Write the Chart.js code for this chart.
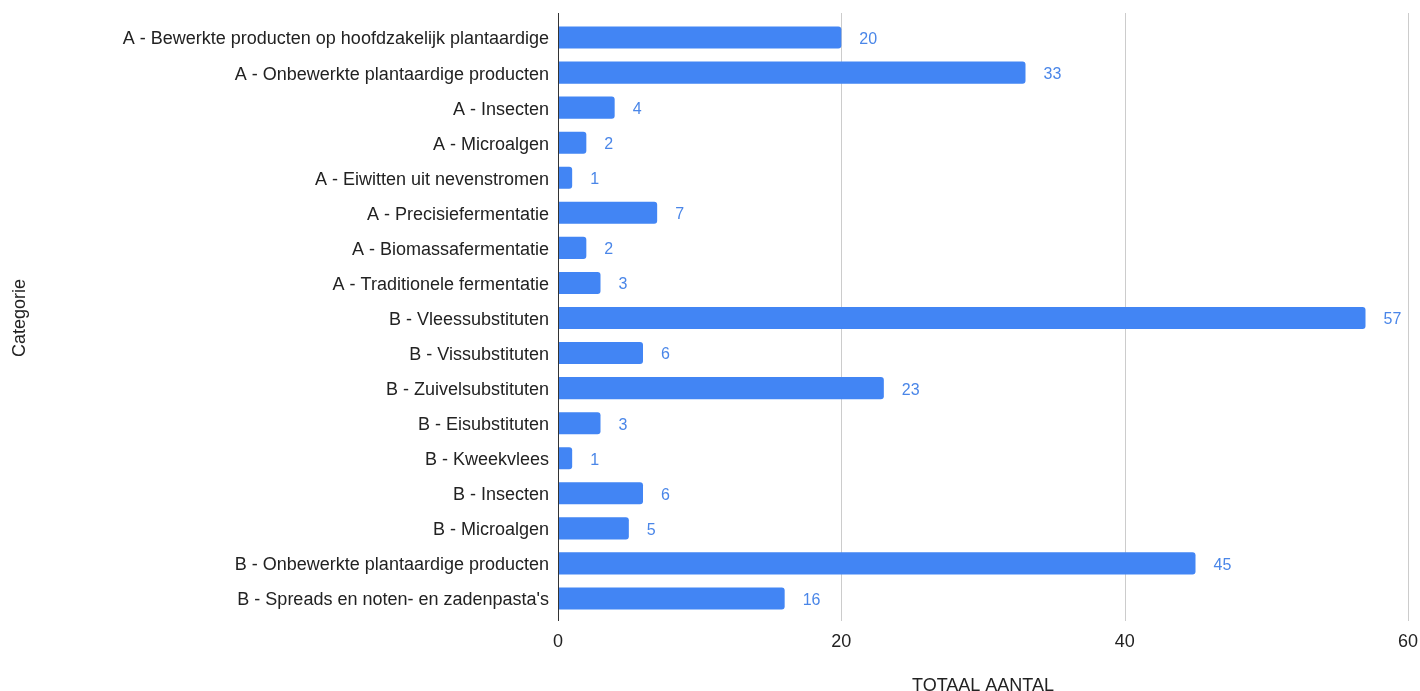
<!DOCTYPE html>
<html>
<head>
<meta charset="utf-8">
<script src="https://cdn.jsdelivr.net/npm/chart.js@4"></script>
<style>
  html, body { margin: 0; padding: 0; background: #fff; }
  #wrap { width: 1420px; height: 691px; }
</style>
</head>
<body>
<div id="wrap"><canvas id="chart"></canvas></div>
<script>
const categories = [
  "A - Bewerkte producten op hoofdzakelijk plantaardige",
  "A - Onbewerkte plantaardige producten",
  "A - Insecten",
  "A - Microalgen",
  "A - Eiwitten uit nevenstromen",
  "A - Precisiefermentatie",
  "A - Biomassafermentatie",
  "A - Traditionele fermentatie",
  "B - Vleessubstituten",
  "B - Vissubstituten",
  "B - Zuivelsubstituten",
  "B - Eisubstituten",
  "B - Kweekvlees",
  "B - Insecten",
  "B - Microalgen",
  "B - Onbewerkte plantaardige producten",
  "B - Spreads en noten- en zadenpasta's"
];
const totals = [20, 33, 4, 2, 1, 7, 2, 3, 57, 6, 23, 3, 1, 6, 5, 45, 16];
const xTicks = [0, 20, 40, 60];

const barColor = "#4285F4";
const fontFamily = "'Liberation Sans', Arial, sans-serif";

// vertical grid lines, a bit taller than the plot area like in Sheets
const gridLines = {
  id: "gridLines",
  beforeDatasetsDraw(chart) {
    const ctx = chart.ctx;
    const x = chart.scales.x;
    const area = chart.chartArea;
    ctx.save();
    ctx.lineWidth = 1;
    ctx.strokeStyle = "#cccccc";
    xTicks.forEach(v => {
      if (v === 0) return;
      const px = Math.round(x.getPixelForValue(v)) + 0.5;
      ctx.beginPath();
      ctx.moveTo(px, area.top - 7);
      ctx.lineTo(px, area.bottom + 5);
      ctx.stroke();
    });
    ctx.restore();
  },
  afterDatasetsDraw(chart) {
    const ctx = chart.ctx;
    const x = chart.scales.x;
    const area = chart.chartArea;
    const px = Math.round(x.getPixelForValue(0)) + 0.5;
    ctx.save();
    ctx.lineWidth = 1;
    ctx.strokeStyle = "#333333";
    ctx.beginPath();
    ctx.moveTo(px, area.top - 7);
    ctx.lineTo(px, area.bottom + 5);
    ctx.stroke();

    // value next to each bar
    const meta = chart.getDatasetMeta(0);
    ctx.font = "16px " + fontFamily;
    ctx.fillStyle = "#4a86e8";
    ctx.textAlign = "left";
    ctx.textBaseline = "middle";
    meta.data.forEach((bar, i) => {
      ctx.fillText(String(totals[i]), bar.x + 18, bar.y + 2);
    });
    ctx.restore();
  }
};

new Chart(document.getElementById("chart"), {
  type: "bar",
  data: {
    labels: categories,
    datasets: [{
      label: "TOTAAL AANTAL",
      data: totals,
      backgroundColor: barColor,
      borderRadius: { topLeft: 0, bottomLeft: 0, topRight: 3, bottomRight: 3 },
      borderSkipped: false,
      barPercentage: 0.63,
      categoryPercentage: 1
    }]
  },
  options: {
    indexAxis: "y",
    responsive: true,
    maintainAspectRatio: false,
    animation: false,
    layout: { padding: { top: 20, right: 0, bottom: 0, left: 0 } },
    plugins: {
      legend: { display: false },
      tooltip: { enabled: false }
    },
    scales: {
      x: {
        min: 0,
        max: 60,
        afterBuildTicks: (scale) => { scale.ticks = xTicks.map(v => ({ value: v })); },
        afterFit: (scale) => { scale.height = 75; scale.paddingRight = 12; },
        grid: { display: false, drawTicks: false },
        border: { display: false },
        ticks: { color: "#222", font: { family: fontFamily, size: 18 }, padding: 15 },
        title: {
          display: true,
          text: "TOTAAL AANTAL",
          color: "#222",
          font: { family: fontFamily, size: 18 },
          padding: { top: 0, bottom: -6 }
        }
      },
      y: {
        afterFit: (scale) => { scale.width = 558; },
        grid: { display: false, drawTicks: false },
        border: { display: false },
        ticks: { color: "#222", font: { family: fontFamily, size: 18 }, padding: 9, labelOffset: 2 },
        title: {
          display: true,
          text: "Categorie",
          color: "#222",
          font: { family: fontFamily, size: 18 },
          padding: { top: 9, bottom: 0 }
        }
      }
    }
  },
  plugins: [gridLines]
});
</script>
</body>
</html>
